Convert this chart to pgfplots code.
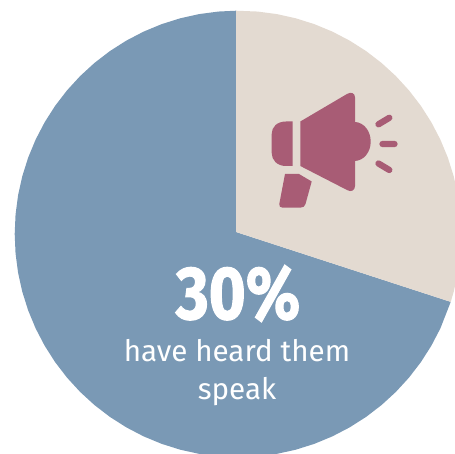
\documentclass[border=0pt]{standalone}
\usepackage{pgfplots}
\usepackage{fontspec}
\setmainfont{Fira Sans}
\newfontfamily\headfont{Fira Sans}[BoldFeatures={FakeBold=1.6}]
\pgfplotsset{compat=1.18}
\definecolor{pieblue}{HTML}{7A99B5}
\definecolor{piesand}{HTML}{E3DAD1}
\definecolor{iconrose}{HTML}{A85C75}
\begin{document}
\begin{tikzpicture}[x=1pt,y=1pt]
\useasboundingbox (0,0) rectangle (455,454);
\begin{axis}[
  at={(0,0)}, anchor=south west,
  width=455pt, height=454pt, scale only axis,
  xmin=-238, xmax=217, ymin=-220, ymax=234,
  hide axis, clip=true,
]
% 70 % share: polar points (angle, radius); the first one is the wedge apex
\addplot[draw=none, fill=pieblue, data cs=polar, forget plot] coordinates {
 (135,2.83) (-17.7,223.3) (-25,223.3) (-30,223.3) (-35,223.3) (-40,223.3) (-45,223.3) (-50,223.3)
 (-55,223.3) (-60,223.3) (-65,223.3) (-70,223.3) (-75,223.3) (-80,223.3) (-85,223.3) (-90,223.3)
 (-95,223.3) (-100,223.3) (-105,223.3) (-110,223.3) (-115,223.3) (-120,223.3) (-125,223.3)
 (-130,223.3) (-135,223.3) (-140,223.3) (-145,223.3) (-150,223.3) (-155,223.3) (-160,223.3)
 (-165,223.3) (-170,223.3) (-175,223.3) (-180,223.3) (-185,223.3) (-190,223.3) (-195,223.3)
 (-200,223.3) (-205,223.3) (-210,223.3) (-215,223.3) (-220,223.3) (-225,223.3) (-230,223.3)
 (-235,223.3) (-240,223.3) (-245,223.3) (-250,223.3) (-255,223.3) (-260,223.3) (-265,223.3)
 (-269.5,223.3)
};
% 30 % share: 108 deg clockwise from the top
\addplot[draw=none, fill=piesand, data cs=polar, forget plot] coordinates {
 (135,2.83) (90.5,223.3) (85,223.3) (80,223.3) (75,223.3) (70,223.3) (65,223.3) (60,223.3) (55,223.3)
 (50,223.3) (45,223.3) (40,223.3) (35,223.3) (30,223.3) (25,223.3) (20,223.3) (15,223.3) (10,223.3)
 (5,223.3) (0,223.3) (-5,223.3) (-10,223.3) (-15,223.3) (-17.7,223.3)
};
\end{axis}
% overlay drawn in a top-left based coordinate system
\begin{scope}[shift={(0,454)},y=-1pt]
  % megaphone
  \fill[iconrose] (300.3,121.5) -- (347,94)
    .. controls (351,91.5) and (355,93) .. (355,97.5) -- (355,122)
    .. controls (364,122.5) and (370.7,131) .. (370.7,141.7)
    .. controls (370.7,152) and (364,160.5) .. (355,161) -- (355,186)
    .. controls (355,190.5) and (351,192.5) .. (347,190) -- (300.3,166) -- cycle;
  \fill[iconrose] (292.5,121.5) -- (292.5,166) -- (286,166)
    .. controls (277,166) and (271.7,160) .. (271.7,153) -- (271.7,134)
    .. controls (271.7,127) and (277,121.5) .. (286,121.5) -- cycle;
  \fill[iconrose] (285,174) -- (299,174) -- (311.7,181.5) -- (305.5,204)
    .. controls (305,206.5) and (303,207.7) .. (300,207.7) -- (282.5,207.7)
    .. controls (280,207.7) and (279,206) .. (279.3,204) -- cycle;
  \draw[iconrose, line width=6.3pt, line cap=round]
    (378.5,124.3) -- (389.3,117.8)
    (382.5,144) -- (394.5,144)
    (378.5,163.5) -- (389.3,170);
  % caption
  \node[text=white, inner sep=0pt, anchor=base] at (238,319)
    {\headfont\bfseries\fontsize{75}{75}\selectfont\scalebox{0.845}[1]{30\%}};
  \node[text=white, inner sep=0pt, anchor=base] at (237,362)
    {\fontsize{29.6}{29.6}\selectfont have heard them};
  \node[text=white, inner sep=0pt, anchor=base] at (237,400)
    {\fontsize{29.6}{29.6}\selectfont speak};
\end{scope}
\end{tikzpicture}
\end{document}
